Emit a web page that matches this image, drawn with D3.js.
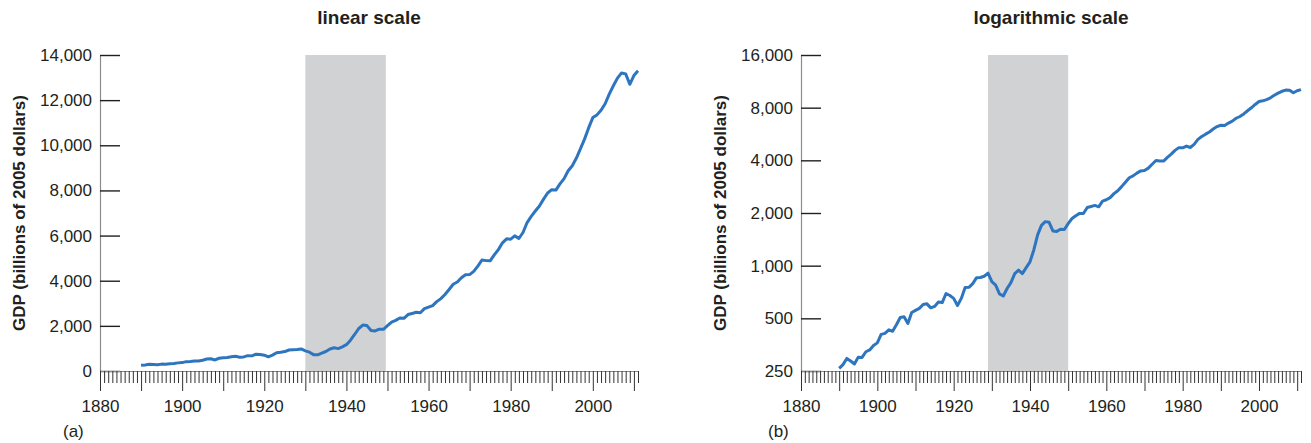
<!DOCTYPE html>
<html>
<head>
<meta charset="utf-8">
<script src="https://cdn.jsdelivr.net/npm/d3@7"></script>
<style>
  body { margin: 0; background: #fff; }
  text { font-family: "Liberation Sans", Arial, sans-serif; fill: #231f20; }
</style>
</head>
<body>
<svg id="chart" width="1311" height="443"></svg>
<script>
// DATA
// ---------------------------------------------------------------------------------
const firstYear = 1890;

// panel (a)
const gdpLinear = [
  260, 270, 299, 288, 276, 305, 300, 325, 335, 360,
  372, 415, 420, 445, 440, 475, 530, 540, 490, 565,
  585, 600, 635, 650, 610, 625, 680, 670, 745, 730,
  700, 630, 705, 810, 830, 860, 930, 940, 950, 977,
  892, 834, 725, 716, 794, 864, 977, 1027, 992, 1072,
  1167, 1366, 1618, 1883, 2035, 2012, 1792, 1776, 1854, 1845,
  2006, 2161, 2244, 2347, 2332, 2500, 2550, 2601, 2578, 2763,
  2831, 2897, 3072, 3207, 3392, 3610, 3845, 3943, 4133, 4262,
  4270, 4413, 4648, 4917, 4890, 4880, 5141, 5378, 5678, 5855,
  5839, 5987, 5871, 6136, 6577, 6849, 7087, 7313, 7614, 7886,
  8034, 8015, 8287, 8523, 8871, 9094, 9434, 9854, 10284, 10780,
  11226, 11347, 11553, 11841, 12264, 12638, 12976, 13206, 13162, 12703,
  13088, 13299
];

const gdpLog = [
  259, 272, 295, 285, 274, 300, 299, 322, 330, 350,
  362, 405, 410, 430, 422, 460, 505, 510, 467, 540,
  555, 570, 600, 605, 574, 585, 620, 615, 693, 675,
  650, 592, 650, 750, 752, 790, 854, 856, 870, 906,
  810, 775, 690, 671, 740, 800, 901, 943, 901, 975,
  1052, 1230, 1500, 1700, 1785, 1770, 1580, 1570, 1615, 1610,
  1740, 1860, 1930, 1990, 1985, 2150, 2180, 2210, 2170, 2340,
  2380, 2450, 2580, 2680, 2830, 3000, 3180, 3260, 3380, 3480,
  3500, 3610, 3800, 3990, 3970, 3960, 4160, 4340, 4560, 4728,
  4717, 4826, 4737, 4935, 5268, 5470, 5645, 5812, 6037, 6237,
  6345, 6333, 6533, 6703, 6960, 7122, 7371, 7678, 7990, 8345,
  8670, 8755, 8902, 9108, 9415, 9680, 9925, 10085, 10060, 9728,
  10000, 10148
];

const linearTicks = [0, 2000, 4000, 6000, 8000, 10000, 12000, 14000];
const logTicks = [250, 500, 1000, 2000, 4000, 8000, 16000];
const yearLabels = [1880, 1900, 1920, 1940, 1960, 1980, 2000];
const yearDomain = [1880, 2011];
const shadeLinear = [1930, 1949.6];
const shadeLog = [1929, 1950];

const titles = ["linear scale", "logarithmic scale"];
const tags = ["(a)", "(b)"];
const yTitle = "GDP (billions of 2005 dollars)";

// LAYOUT
// ---------------------------------------------------------------------------------
const plotTop = 55, plotBottom = 371;
const lineColor = "#2e75bf";
const svg = d3.select("#chart");

const panels = [
  { left: 100, right: 638, values: gdpLinear, ticks: linearTicks, shade: shadeLinear,
    y: d3.scaleLinear([0, 14000], [plotBottom, plotTop]), titleX: 25, tagX: 63, title: titles[0], tag: tags[0] },
  { left: 801, right: 1301, values: gdpLog, ticks: logTicks, shade: shadeLog,
    y: d3.scaleLog([250, 16000], [plotBottom, plotTop]), titleX: 726, tagX: 768, title: titles[1], tag: tags[1] }
];

const fmt = d3.format(",");

panels.forEach(p => {
  const x = d3.scaleLinear(yearDomain, [p.left, p.right]);
  const g = svg.append("g");

  // shaded band
  g.append("rect")
    .attr("x", x(p.shade[0]))
    .attr("y", plotTop)
    .attr("width", x(p.shade[1]) - x(p.shade[0]))
    .attr("height", plotBottom - plotTop)
    .attr("fill", "#d1d2d4");

  // y axis, ticks pointing into the plot
  const yAxis = g.append("g")
    .attr("transform", `translate(${p.left},0)`)
    .call(d3.axisLeft(p.y).tickValues(p.ticks).tickFormat(fmt)
      .tickSizeInner(-20).tickSizeOuter(0).tickPadding(8));
  yAxis.select(".domain").attr("stroke", "#8c8c8c").attr("stroke-width", 1.2);
  yAxis.selectAll(".tick line").attr("stroke", "#231f20").attr("stroke-width", 1.4);
  yAxis.selectAll(".tick text").style("font-size", "17px").attr("fill", "#231f20");

  // x axis, one tick per year, longer at decades
  const years = [];
  for (let yr = yearDomain[0]; yr <= yearDomain[1]; yr++) years.push(yr);
  const xAxis = g.append("g")
    .attr("transform", `translate(0,${plotBottom})`)
    .call(d3.axisBottom(x).tickValues(years)
      .tickFormat(d => yearLabels.includes(d) ? d : "")
      .tickSizeOuter(0));
  xAxis.select(".domain").attr("stroke", "#8c8c8c").attr("stroke-width", 1.2);
  xAxis.selectAll(".tick line")
    .attr("stroke", "#333")
    .attr("stroke-width", 1)
    .attr("y2", d => d % 10 === 0 ? 20 : 12);
  xAxis.selectAll(".tick text")
    .attr("y", 29)
    .style("font-size", "17px")
    .attr("fill", "#231f20");

  // the GDP line
  const series = p.values.map((v, i) => ({ year: firstYear + i, value: v }));
  g.append("path")
    .datum(series)
    .attr("fill", "none")
    .attr("stroke", lineColor)
    .attr("stroke-width", 3)
    .attr("stroke-linejoin", "round")
    .attr("d", d3.line().x(d => x(d.year)).y(d => p.y(d.value)));

  // titles
  g.append("text")
    .attr("x", (p.left + p.right) / 2)
    .attr("y", 24)
    .attr("text-anchor", "middle")
    .style("font-size", "19px")
    .style("font-weight", "bold")
    .text(p.title);

  g.append("text")
    .attr("transform", `translate(${p.titleX},${(plotTop + plotBottom) / 2}) rotate(-90)`)
    .attr("text-anchor", "middle")
    .style("font-size", "17px")
    .style("font-weight", "bold")
    .text(yTitle);

  g.append("text")
    .attr("x", p.tagX)
    .attr("y", 437)
    .style("font-size", "17px")
    .text(p.tag);
});
</script>
</body>
</html>
